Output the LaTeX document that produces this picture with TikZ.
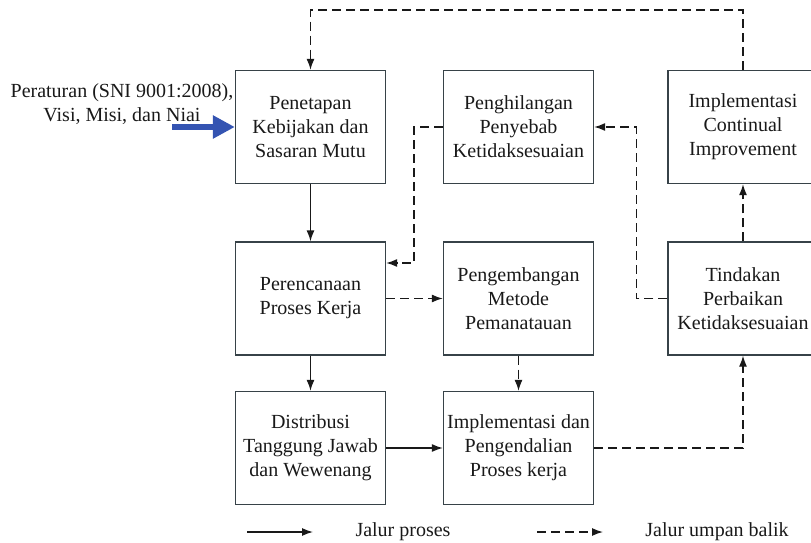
\documentclass[tikz,border=0pt]{standalone}
\usepackage{fontspec}
\setmainfont{Liberation Serif}
\usetikzlibrary{arrows.meta}
\definecolor{garis}{RGB}{55,66,72}
\definecolor{biru}{RGB}{52,84,178}
\tikzset{
  kotak/.style={draw=garis, line width=1.3pt, minimum width=150pt, minimum height=113pt,
    align=center, text=black!90, font=\fontsize{20}{24}\selectfont},
  proses/.style={draw=black!90, line width=1.3pt, -{Latex[length=11pt,width=8pt]}},
  balik/.style={proses, dash pattern=on 9pt off 5pt},
  teks/.style={text=black!90, font=\fontsize{20}{24}\selectfont, align=center}
}
\begin{document}
\begin{tikzpicture}[x=1pt,y=-1pt]
    \useasboundingbox (0,0) rectangle (811,543);
\node[kotak] (pen) at (310.5,127) {Penetapan\\Kebijakan dan\\Sasaran Mutu};
\node[kotak] (hil) at (518.5,127) {Penghilangan\\Penyebab\\Ketidaksesuaian};
\node[kotak] (imp) at (743,127) {Implementasi\\Continual\\Improvement};
\node[kotak] (ren) at (310.5,298.5) {Perencanaan\\Proses Kerja};
\node[kotak] (kem) at (518.5,298.5) {Pengembangan\\Metode\\Pemanatauan};
\node[kotak] (tin) at (743,298.5) {Tindakan\\Perbaikan\\Ketidaksesuaian};
\node[kotak] (dis) at (310.5,448) {Distribusi\\Tanggung Jawab\\dan Wewenang};
\node[kotak] (pel) at (518.5,448) {Implementasi dan\\Pengendalian\\Proses kerja};
    \node[teks] (input) at (122,104.5) {Peraturan (SNI 9001:2008),\\Visi, Misi, dan Niai};
    \coordinate (masuk) at (172,127);
    \draw[biru, line width=6pt, -{Triangle[length=22pt,width=22pt]}] (masuk) -- (pen.west);
\coordinate (atas) at (527,10);
\draw[balik] (imp.north) |- (atas) -| (pen.north);
\draw[proses] (pen) -- (ren);
\draw[proses] (ren) -- (dis);
\draw[proses] (dis) -- (pel);
\draw[balik] (ren) -- (kem);
\draw[balik] (kem) -- (pel);
\draw[balik] (pel.east) -| (tin.south);
\draw[balik] (tin) -- (imp);
\draw[balik] (tin.west) -- ++(-31,0) |- (hil.east);
\draw[balik] (hil.west) -- ++(-29,0) |- ([shift={(0,-35.5)}]ren.east);
    \coordinate (l1) at (247,532); \coordinate (l2) at (313,532);
    \coordinate (l3) at (537,532); \coordinate (l4) at (603,532);
\draw[proses] (l1) -- (l2);
\node[teks] (lproses) at (403,532) {Jalur proses};
\draw[balik] (l3) -- (l4);
\node[teks] (lbalik) at (717,532) {Jalur umpan balik};
    \end{tikzpicture}
\end{document}
